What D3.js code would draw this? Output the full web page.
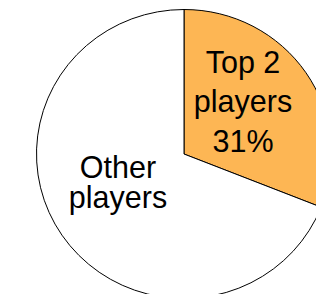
<!DOCTYPE html>
<html>
<head>
<meta charset="utf-8">
<script src="https://cdn.jsdelivr.net/npm/d3@7"></script>
<style>
  html, body { margin: 0; padding: 0; background: #fff; }
  svg { display: block; }
  text { font-family: Arial, "Liberation Sans", sans-serif; fill: #000; }
</style>
</head>
<body>
<div id="chart"></div>
<script>
var width = 316, height = 294;

// data
var categories = ["Top 2 players", "Other players"],
    shares = [31, 69],
    colours = ["#fdb654", "#ffffff"];

// label lines per slice
var labelLines = [["Top 2", "players", "31%"], ["Other", "players"]];

var cx = 184, cy = 154,
    ry = 144.5, rx = 147.5;

var svg = d3.select("#chart").append("svg")
            .attr("width", width)
            .attr("height", height);

var g = svg.append("g")
           .attr("transform", "translate(" + cx + "," + cy + ") scale(" + (rx / ry) + ",1)");

var pie = d3.pie().sort(null).value(function(d) { return d; });
var arc = d3.arc().innerRadius(0).outerRadius(ry);

g.selectAll("path")
  .data(pie(shares))
  .enter()
  .append("path")
  .attr("d", arc)
  .style("fill", function(d, i) { return colours[i]; })
  .style("stroke", "#000")
  .style("stroke-width", 1)
  .attr("vector-effect", "non-scaling-stroke");

// labels
var labelPos = [
  {x: 243, y: 73, step: 39.3},
  {x: 118, y: 178, step: 30}
];

labelLines.forEach(function(lines, i) {
  var t = svg.append("text")
             .attr("text-anchor", "middle")
             .style("font-size", "30.5px");
  lines.forEach(function(s, j) {
    t.append("tspan")
     .attr("x", labelPos[i].x)
     .attr("y", labelPos[i].y + j * labelPos[i].step)
     .text(s);
  });
});
</script>
</body>
</html>
